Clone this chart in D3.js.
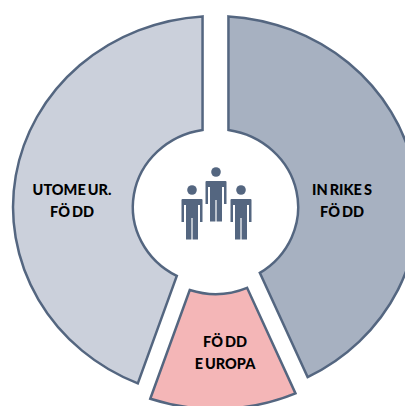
<!DOCTYPE html>
<html>
<head>
<meta charset="utf-8">
<script src="https://cdn.jsdelivr.net/npm/d3@7"></script>
<style>
html, body { margin: 0; padding: 0; background: #fff; overflow: hidden; }
</style>
</head>
<body>
<script>
var categories = ["INRIKES", "EUROPA", "UTOMEUR"]
var shares = [43.5, 11.75, 44.75]

var width = 405,
    height = 406,
    cx = 215.5,
    cy = 207,
    squeeze = 1.06, // the original doughnut is a bit wider than tall
    innerR = 78,
    outerR = 191,
    padRadius = 100

var colors = { INRIKES: "#a7b1c1", EUROPA: "#f4b6b7", UTOMEUR: "#cbd0db" }
var gaps = { INRIKES: 24.5, EUROPA: 0, UTOMEUR: 24.5 }
var explode = { INRIKES: 0, EUROPA: 12, UTOMEUR: 0 }
var stroke = "#546680"

var svg = d3.select("body")
    .append("svg")
    .attr("width", width)
    .attr("height", height)
    .style("display", "block")

var pie = d3.pie()
    .sort(null)
    .value(function (d, i) { return shares[i] })

var arc = d3.arc()
    .innerRadius(function (d) { return d.data == "EUROPA" ? 75 : innerR })
    .outerRadius(function (d) { return d.data == "EUROPA" ? 190 : outerR })
    .padRadius(padRadius)
    .padAngle(function (d) { return gaps[d.data] / padRadius })

svg.selectAll("path.slice")
    .data(pie(categories))
    .enter()
    .append("path")
    .attr("class", "slice")
    .attr("d", arc)
    .attr("transform", function (d) {
        return "translate(" + cx + "," + (cy + explode[d.data]) + ") scale(" + squeeze + ",1)"
    })
    .attr("vector-effect", "non-scaling-stroke")
    .style("fill", function (d) { return colors[d.data] })
    .style("stroke", stroke)
    .style("stroke-width", 2.5)
    .style("stroke-linejoin", "miter")

// label lines, the pieces keep the wide gaps of the original
var labels = [
    { x: 72, lines: [{ y: 195, parts: ["UTOME", "UR."] }, { y: 217, parts: ["FÖ", "DD"] }] },
    { x: 342, lines: [{ y: 195, parts: ["IN", "RIKE", "S"] }, { y: 217, parts: ["FÖ", "DD"] }] },
    { x: 225, lines: [{ y: 347, parts: ["FÖ", "DD"] }, { y: 369, parts: ["E", "UROPA"] }] }
]

labels.forEach(function (l) {
    var t = svg.append("text")
        .attr("text-anchor", "middle")
        .style("font-family", "Lato, 'Open Sans', sans-serif")
        .style("font-weight", 900)
        .style("font-size", "14.5px")
        .style("fill", "#000")
    l.lines.forEach(function (line) {
        line.parts.forEach(function (p, i) {
            var s = t.append("tspan").text(p)
            if (i == 0) s.attr("x", l.x).attr("y", line.y)
            else s.attr("dx", 2)
        })
    })
})

// three people in the hole
var people = [[216, 172], [192, 190], [241, 190]]
var body = "M-10.5,10 Q-10.5,9 -9.5,9 L9.5,9 Q10.5,9 10.5,10 L10.5,32 L8,32 L8,15 L6,15 L6,49.5 L0.6,49.5 L0.6,28 L-0.6,28 L-0.6,49.5 L-6,49.5 L-6,15 L-8,15 L-8,32 L-10.5,32 Z"

var person = svg.selectAll("g.person")
    .data(people)
    .enter()
    .append("g")
    .attr("class", "person")
    .attr("transform", function (d) { return "translate(" + d[0] + "," + d[1] + ")" })
    .style("fill", stroke)

person.append("circle").attr("r", 4.8)
person.append("path").attr("d", body)
</script>
</body>
</html>
